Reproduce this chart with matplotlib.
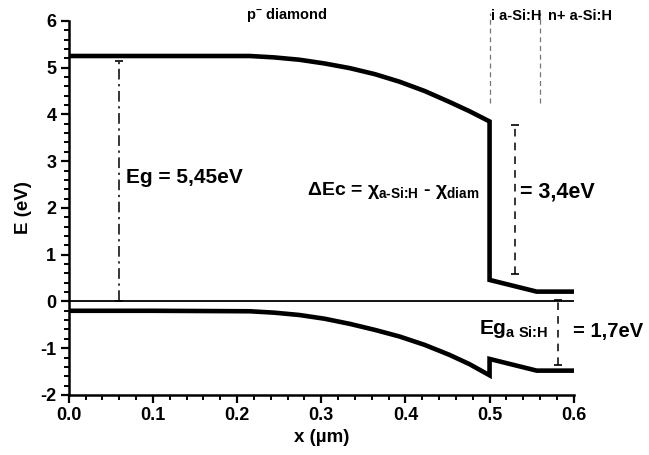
import numpy as np
import matplotlib.pyplot as plt
from matplotlib.ticker import MultipleLocator, FormatStrFormatter

plt.rcParams.update({
    "font.family": "Liberation Sans",
    "font.weight": "bold",
    "axes.unicode_minus": False,
    "mathtext.fontset": "custom",
    "mathtext.rm": "Liberation Sans:bold",
    "mathtext.it": "Liberation Sans:bold",
    "mathtext.bf": "Liberation Sans:bold",
    "mathtext.sf": "Liberation Sans:bold",
})

# ---- band edges ----
x_band = [0.0, 0.1, 0.215, 0.244, 0.274, 0.304, 0.334, 0.364, 0.393, 0.423,
          0.452, 0.476, 0.5, 0.5, 0.556, 0.6]
E_cond = [5.25, 5.25, 5.25, 5.22, 5.17, 5.09, 4.99, 4.86, 4.70, 4.50,
          4.27, 4.07, 3.85, 0.46, 0.21, 0.21]
E_val = [-0.20, -0.20, -0.21, -0.24, -0.29, -0.37, -0.48, -0.61, -0.75, -0.93,
         -1.14, -1.34, -1.58, -1.23, -1.48, -1.48]

# layer boundaries (top marks)
x_layers = [0.5, 0.56]

# gap markers: x, bottom, top
eg_diam = (0.06, 0.0, 5.14)
dEc = (0.53, 0.58, 3.77)
eg_si = (0.581, -1.36, 0.04)

fig = plt.figure(figsize=(6.49, 4.55), dpi=100)
ax = fig.add_axes([0.106, 0.132, 0.778, 0.822])

ax.axhline(0, color="black", lw=1.3, zorder=2)
ax.plot(x_band, E_cond, color="black", lw=3.3, solid_joinstyle="miter", zorder=3)
ax.plot(x_band, E_val, color="black", lw=3.3, solid_joinstyle="miter", zorder=3)

for xl in x_layers:
    ax.plot([xl, xl], [4.25, 6.18], color="#777777", lw=0.9, ls=(0, (4, 3)),
            clip_on=False)

# gap bars with end caps
xg, lo, hi = eg_diam
ax.plot([xg, xg], [lo, hi], color="black", lw=1.1, ls=(0, (7, 3, 1.5, 3)))
ax.plot([xg, xg], [lo, hi], ls="none", marker="_", ms=6, mew=1.2, color="black")
for xg, lo, hi in (dEc, eg_si):
    ax.plot([xg, xg], [lo, hi], color="black", lw=1.1, ls=(0, (5, 4)))
    ax.plot([xg, xg], [lo, hi], ls="none", marker="_", ms=6, mew=1.2, color="black")

# labels
ax.text(0.068, 2.66, "Eg = 5,45eV", fontsize=15, va="center", ha="left")
ax.text(0.283, 2.38, r"$\Delta$Ec = $\chi_{\text{a-Si:H}}$ - $\chi_{\text{diam}}$",
        fontsize=14, va="center", ha="left")
ax.text(0.536, 2.35, "= 3,4eV", fontsize=15.5, va="center", ha="left")
ax.text(0.487, -0.6, r"Eg$_{\text{a Si:H}}$", fontsize=15, va="center", ha="left")
ax.text(0.599, -0.64, "= 1,7eV", fontsize=14.5, va="center", ha="left", clip_on=False)

ax.text(0.259, 6.12, r"p$^{\mathbf{-}}$ diamond", fontsize=10.5, ha="center",
        va="center", clip_on=False)
ax.text(0.502, 6.1, "i a-Si:H", fontsize=10.5, ha="left", va="center", clip_on=False)
ax.text(0.569, 6.1, "n+ a-Si:H", fontsize=10.5, ha="left", va="center", clip_on=False)

ax.set_xlim(0, 0.6)
ax.set_ylim(-2, 6)
ax.xaxis.set_major_locator(MultipleLocator(0.1))
ax.xaxis.set_minor_locator(MultipleLocator(0.02))
ax.xaxis.set_major_formatter(FormatStrFormatter("%.1f"))
ax.yaxis.set_major_locator(MultipleLocator(1))
ax.yaxis.set_minor_locator(MultipleLocator(0.2))
ax.tick_params(which="major", direction="out", length=6, width=1.6, labelsize=13, pad=3)
ax.tick_params(which="minor", direction="out", length=3.5, width=1.4)

for s in ["top", "right"]:
    ax.spines[s].set_visible(False)
for s in ["left", "bottom"]:
    ax.spines[s].set_linewidth(1.8)

ax.set_xlabel("x (µm)", fontsize=13.5, fontweight="bold", labelpad=3)
ax.set_ylabel("E (eV)", fontsize=13.5, fontweight="bold", labelpad=6)

fig.savefig("out.png", dpi=100)
